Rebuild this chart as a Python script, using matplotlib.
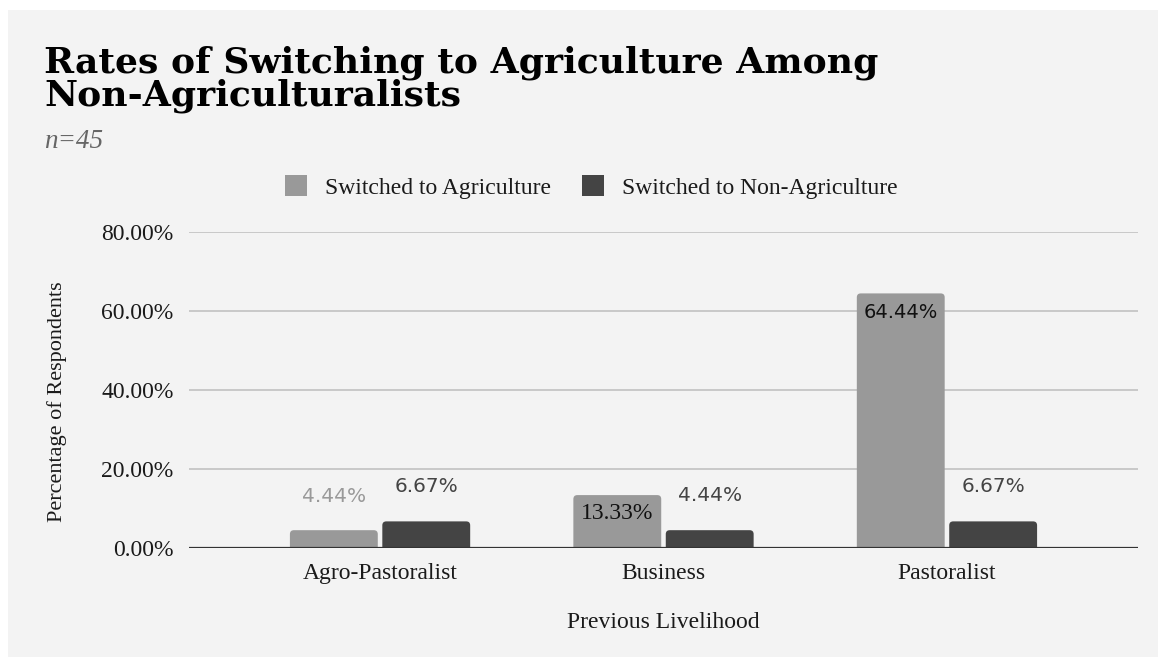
import matplotlib
matplotlib.use("Agg")
import matplotlib.pyplot as plt
from matplotlib.patches import FancyBboxPatch, Rectangle, Patch
import numpy as np

# data
categories = ["Agro-Pastoralist", "Business", "Pastoralist"]
series_names = ["Switched to Agriculture", "Switched to Non-Agriculture"]
switched_ag = [4.44, 13.33, 64.44]
switched_nonag = [6.67, 4.44, 6.67]
yticks = [0, 20, 40, 60, 80]

colors = ["#999999", "#444444"]
bg = "#f3f3f3"
serif = "Liberation Serif"
W, H = 1165, 659

fig = plt.figure(figsize=(W / 100, H / 100), dpi=100, facecolor="white")
fig.patches.append(Rectangle((8 / W, 2 / H), 1150 / W, 647 / H, transform=fig.transFigure,
                             facecolor=bg, edgecolor="none", zorder=-10))

ax = fig.add_axes([189 / W, 111.3 / H, 949 / W, 315.7 / H])
ax.set_facecolor(bg)
ax.set_xlim(-0.674, 2.674)
ax.set_ylim(0, 80)

x = np.arange(len(categories))
width = 0.31
offset = 0.163
# x-unit in px divided by y-unit in px, keeps the corner rounding circular
aspect = 283.5 / 3.946

for vals, off, col in [(switched_ag, -offset, colors[0]), (switched_nonag, offset, colors[1])]:
    for xi, v in zip(x, vals):
        p = FancyBboxPatch((xi + off - width / 2, -3), width, v + 3,
                           boxstyle="round,pad=0,rounding_size=0.014",
                           mutation_aspect=aspect, facecolor=col, edgecolor="none", zorder=3)
        ax.add_patch(p)

for t in yticks[1:]:
    ax.axhline(t, color="#c8c8c8", lw=1.4, zorder=1)
ax.axhline(0, color="#333333", lw=1.6, zorder=4)

for s in ax.spines.values():
    s.set_visible(False)
ax.set_yticks(yticks)
ax.set_yticklabels([f"{t:.2f}%" for t in yticks], fontfamily=serif, fontsize=17, color="#1a1a1a")
ax.set_xticks(x)
ax.set_xticklabels(categories, fontfamily=serif, fontsize=17, color="#1a1a1a")
ax.tick_params(axis="both", length=0)
ax.tick_params(axis="y", pad=11)
ax.tick_params(axis="x", pad=11)

# data labels
for xi, v in zip(x, switched_ag):
    if v < 10:
        ax.annotate(f"{v:.2f}%", (xi - offset, v), xytext=(0, 24), textcoords="offset points",
                    ha="center", va="center", fontsize=14.5, color="#999999", fontfamily="DejaVu Sans")
    elif v < 30:
        ax.annotate(f"{v:.2f}%", (xi - offset, v), xytext=(0, -13), textcoords="offset points",
                    ha="center", va="center", fontsize=17, color="#111111", fontfamily=serif, zorder=5)
    else:
        ax.annotate(f"{v:.2f}%", (xi - offset, v), xytext=(0, -13.5), textcoords="offset points",
                    ha="center", va="center", fontsize=14, color="#111111", fontfamily="DejaVu Sans", zorder=5)
for xi, v in zip(x, switched_nonag):
    ax.annotate(f"{v:.2f}%", (xi + offset, v), xytext=(0, 25), textcoords="offset points",
                ha="center", va="center", fontsize=14.5, color="#444444", fontfamily="DejaVu Sans")

fig.text(57 / W, 1 - 402 / H, "Percentage of Respondents", rotation=90, ha="center", va="center",
         fontfamily=serif, fontsize=16, color="#1a1a1a")
fig.text(663 / W, 1 - 623 / H, "Previous Livelihood", ha="center", va="center",
         fontfamily=serif, fontsize=17, color="#1a1a1a")

fig.text(44 / W, 1 - 45 / H, "Rates of Switching to Agriculture Among\nNon-Agriculturalists",
         ha="left", va="top", fontfamily="DejaVu Serif", fontweight="bold", fontsize=26,
         color="#000000", linespacing=0.95)
fig.text(44 / W, 1 - 142 / H, "n=45", ha="left", va="center", fontfamily=serif, style="italic",
         fontsize=19.5, color="#666666")

handles = [Patch(facecolor=c, edgecolor="none") for c in colors]
leg = fig.legend(handles, series_names, loc="center", bbox_to_anchor=(591 / W, 1 - 187 / H),
                 ncol=2, frameon=False, prop={"family": serif, "size": 17},
                 handlelength=0.95, handleheight=0.95, handletextpad=0.75, columnspacing=1.3)
for t in leg.get_texts():
    t.set_color("#1a1a1a")

fig.savefig("out.png", dpi=100, facecolor="white")
